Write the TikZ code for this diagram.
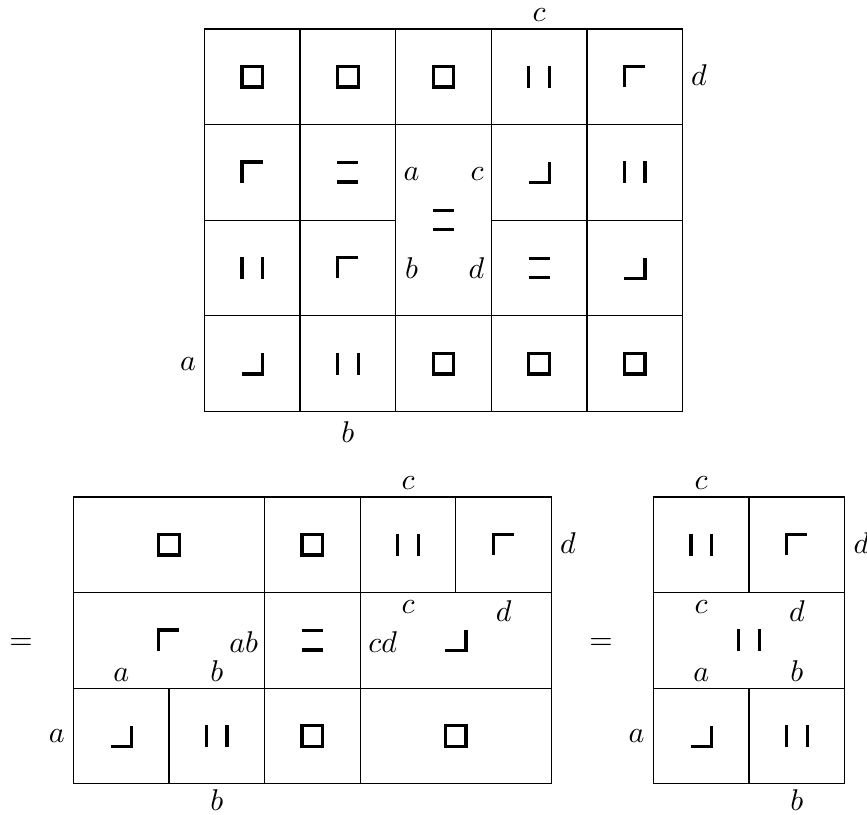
\documentclass[tikz,border=0pt]{standalone}
\begin{document}
\begin{tikzpicture}[x=0.33333pt,y=-0.33333pt,
  gridline/.style={line width=0.45pt},
  gl/.style={line width=1.1pt,line join=miter},
  lbl/.style={inner sep=0pt,outer sep=0pt},
  sqg/.pic={\draw[gl] (-10.3,-10.3) rectangle (10.3,10.3);},
  vvg/.pic={\draw[gl] (-10.3,-11)--(-10.3,11) (10.3,-11)--(10.3,11);},
  hhg/.pic={\draw[gl] (-10.5,-9.6)--(10.5,-9.6) (-10.5,9.6)--(10.5,9.6);},
  tlg/.pic={\draw[gl] (-10.3,10.3)--(-10.3,-10.3)--(10.3,-10.3);},
  brg/.pic={\draw[gl] (-10.3,10.3)--(10.3,10.3)--(10.3,-10.3);},
]
\useasboundingbox (0,0) rectangle (867,814);

% ---------------- top grid ----------------
\draw[gridline] (204.5,29) rectangle (682.5,411.4);
\draw[gridline] (300.1,29)--(300.1,411.4) (395.7,29)--(395.7,411.4)
  (491.3,29)--(491.3,411.4) (586.9,29)--(586.9,411.4);
\draw[gridline] (204.5,124.6)--(682.5,124.6)
  (204.5,220.2)--(395.7,220.2) (491.3,220.2)--(682.5,220.2)
  (204.5,315.8)--(682.5,315.8);
% row 1
\pic at (252.3,76.8) {sqg};
\pic at (347.9,76.8) {sqg};
\pic at (443.5,76.8) {sqg};
\pic at (539.1,76.8) {vvg};
\pic at (634.7,76.8) {tlg};
% row 2
\pic at (252.3,172.4) {tlg};
\pic at (347.9,172.4) {hhg};
\pic at (539.1,172.4) {brg};
\pic at (634.7,172.4) {vvg};
% row 3
\pic at (252.3,268) {vvg};
\pic at (347.9,268) {tlg};
\pic at (539.1,268) {hhg};
\pic at (634.7,268) {brg};
% row 4
\pic at (252.3,363.6) {brg};
\pic at (347.9,363.6) {vvg};
\pic at (443.5,363.6) {sqg};
\pic at (539.1,363.6) {sqg};
\pic at (634.7,363.6) {sqg};
% merged centre cell
\pic at (443.5,220.2) {hhg};
\node[lbl,anchor=base] (ta1) at (411.5,180.7) {$a$};
\node[lbl,anchor=base] (tc1) at (477,180.7) {$c$};
\node[lbl,anchor=base] (tb1) at (411.5,278.3) {$b$};
\node[lbl,anchor=base] (td1) at (476.5,278.3) {$d$};
% outer labels
\node[lbl] (tc) at (539.1,15) {$c$};
\node[lbl] (td) at (699,75.3) {$d$};
\node[lbl] (ta) at (188,363.6) {$a$};
\node[lbl] (tb) at (347.9,432) {$b$};

% ---------------- bottom left grid ----------------
\node[lbl,anchor=base] (eq1) at (21,649) {$=$};
\draw[gridline] (73.3,497) rectangle (551.4,783.8);
\draw[gridline] (73.3,592.6)--(551.4,592.6) (73.3,688.2)--(551.4,688.2);
\draw[gridline] (169,688.2)--(169,783.8) (264.6,497)--(264.6,783.8)
  (360.2,497)--(360.2,783.8) (455.8,497)--(455.8,592.6);
% row 1
\pic at (169,544.8) {sqg};
\pic at (312.4,544.8) {sqg};
\pic at (408,544.8) {vvg};
\pic at (503.6,544.8) {tlg};
% row 2
\pic at (169,640.4) {tlg};
\pic at (312.4,640.4) {hhg};
\pic at (455.8,640.4) {brg};
\node[lbl,anchor=base east] (lab) at (258,652) {$ab$};
\node[lbl,anchor=base] (la2) at (121.2,681) {$a$};
\node[lbl,anchor=base] (lb2) at (216.8,681) {$b$};
\node[lbl,anchor=base west] (lcd) at (368.5,652) {$cd$};
\node[lbl,anchor=north] (lc2) at (408,601) {$c$};
\node[lbl,anchor=north] (ld2) at (503.6,601) {$d$};
% row 3
\pic at (121.2,736) {brg};
\pic at (216.8,736) {vvg};
\pic at (312.4,736) {sqg};
\pic at (455.8,736) {sqg};
% outer labels
\node[lbl] (lc) at (408,483) {$c$};
\node[lbl] (ld) at (568,543.3) {$d$};
\node[lbl] (la) at (56.8,736) {$a$};
\node[lbl] (lb) at (216.8,800) {$b$};

% ---------------- bottom right grid ----------------
\node[lbl,anchor=base] (eq2) at (601,649) {$=$};
\draw[gridline] (653.3,497) rectangle (844.7,783.8);
\draw[gridline] (653.3,592.6)--(844.7,592.6) (653.3,688.2)--(844.7,688.2);
\draw[gridline] (749,497)--(749,592.6) (749,688.2)--(749,783.8);
\pic at (701.2,544.8) {vvg};
\pic at (796.9,544.8) {tlg};
\pic at (749,640.4) {vvg};
\node[lbl,anchor=north] (rc2) at (701.2,601) {$c$};
\node[lbl,anchor=north] (rd2) at (796.9,601) {$d$};
\node[lbl,anchor=base] (ra2) at (701.2,681) {$a$};
\node[lbl,anchor=base] (rb2) at (796.9,681) {$b$};
\pic at (701.2,736) {brg};
\pic at (796.9,736) {vvg};
\node[lbl] (rc) at (701.2,483) {$c$};
\node[lbl] (rd) at (861.5,543.3) {$d$};
\node[lbl] (ra) at (636.5,736) {$a$};
\node[lbl] (rb) at (796.9,800) {$b$};
\end{tikzpicture}
\end{document}
